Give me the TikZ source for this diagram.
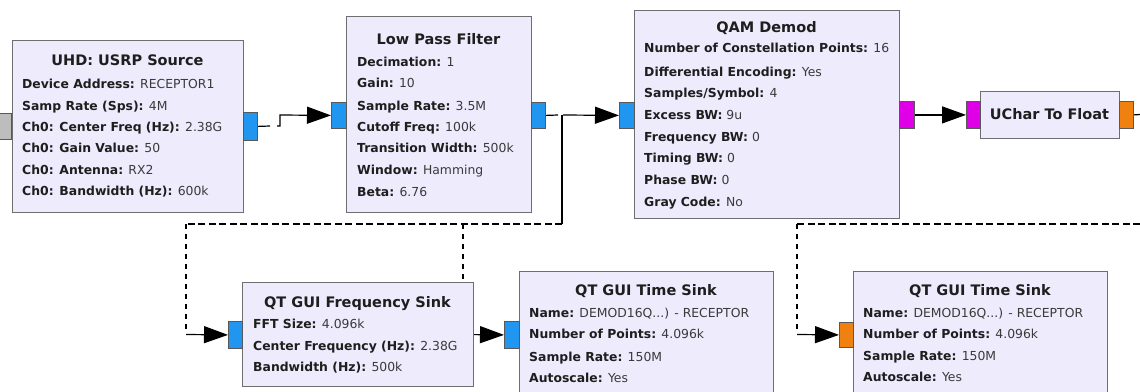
\documentclass[tikz,border=0pt]{standalone}
\usepackage{fontspec}
\setmainfont{DejaVu Sans}
\usetikzlibrary{arrows.meta}
\definecolor{blockfill}{HTML}{EEEBFD}
\definecolor{blockedge}{HTML}{6E6E6E}
\definecolor{portblue}{HTML}{2196F0}
\definecolor{portmag}{HTML}{E000E8}
\definecolor{portorange}{HTML}{F08010}
\definecolor{portgrey}{HTML}{BDBDBD}
\definecolor{keytext}{HTML}{1E1E1E}
\definecolor{valtext}{HTML}{3A3A3A}
\newcommand\kv[2]{{\bfseries\color{keytext}#1:} {\color{valtext}#2}}
\tikzset{
  block/.style={draw=blockedge, fill=blockfill, line width=1.2pt, inner sep=0pt, anchor=north west},
  port/.style={draw=blockedge!80!black, line width=0.8pt, inner sep=0pt, anchor=north west},
  title/.style={font=\fontsize{14.5}{16}\selectfont\bfseries, text=keytext, inner sep=0pt, anchor=base},
  prop/.style={font=\fontsize{12.4}{14}\selectfont, inner sep=0pt, anchor=base west},
  wire/.style={line width=1.2pt, black},
  flow/.style={wire, -{Triangle[length=24pt,width=17pt]}},
  hdash/.style={wire, dash pattern=on 7pt off 3.5pt},
  vdash/.style={wire, dash pattern=on 5pt off 5pt}
}
\begin{document}
\begin{tikzpicture}[x=1pt,y=-1pt]
\useasboundingbox (0,0) rectangle (1140,391);
\clip (0,0) rectangle (1140,391);

% ---------- connectors (drawn first so blocks sit on top) ----------
\coordinate (j1a) at (270,126);
\coordinate (j1b) at (277,126);
\coordinate (j2a) at (558,115);
\coordinate (j2b) at (563,115);
\coordinate (tap) at (562,115);
\coordinate (tapd) at (562,224);
\coordinate (fftd) at (186,224);
\coordinate (fftc) at (186,334.5);
\coordinate (tsd) at (463,224);
\coordinate (tsc) at (463,334.5);
\coordinate (rtop) at (1140,114.5);
\coordinate (rbot) at (1140,224);
\coordinate (ts2d) at (797,224);
\coordinate (ts2c) at (797,334.5);

% ---------- ports ----------
\node[port, fill=portgrey, minimum width=12pt, minimum height=26pt] (usrpin) at (-1,113) {};
\node[port, fill=portblue, minimum width=14pt, minimum height=28pt] (usrpout) at (243,112) {};
\node[port, fill=portblue, minimum width=15pt, minimum height=26pt] (lpfin) at (331,102) {};
\node[port, fill=portblue, minimum width=14pt, minimum height=26pt] (lpfout) at (531,102) {};
\node[port, fill=portblue, minimum width=15pt, minimum height=26pt] (qamin) at (619,102) {};
\node[port, fill=portmag, minimum width=15pt, minimum height=27pt] (qamout) at (899,101) {};
\node[port, fill=portmag, minimum width=14pt, minimum height=27pt] (ucin) at (966,101) {};
\node[port, fill=portorange, minimum width=14pt, minimum height=27pt] (ucout) at (1119,101) {};
\node[port, fill=portblue, minimum width=14pt, minimum height=27pt] (fftin) at (228,321) {};
\node[port, fill=portblue, minimum width=15pt, minimum height=27pt] (ts1in) at (504,321) {};
\node[port, fill=portorange, minimum width=14pt, minimum height=25pt] (ts2in) at (839,322) {};

% USRP -> low pass filter
\draw[wire] (usrpout.east) -- (j1a);
\draw[flow] (j1b) -- (280,126) -- (280,115) -- (lpfin.west);

% low pass filter -> QAM demod, frequency sink, time sink
\draw[wire] (lpfout.east) -- (j2a);
\draw[flow] (j2b) -- (qamin.west);
\draw[wire] (tap) -- (tapd);
\draw[hdash] (tapd) -- (fftd);
\draw[vdash] (fftd) -- (186,330);
\draw[flow] (fftc) -- (fftin.west);
\draw[vdash] (tsd) -- (tsc);
\draw[flow] (tsc) -- (ts1in.west);

% QAM demod -> UChar to float -> second time sink
\draw[flow] (qamout.east) -- (ucin.west);
\draw[wire] (ucout.east) -- (rtop);
\draw[hdash] (rbot) -- (ts2d);
\draw[vdash] (ts2d) -- (797,330);
\draw[flow] (ts2c) -- (ts2in.west);

% ---------- UHD: USRP Source ----------
\node[block, minimum width=231pt, minimum height=172pt] (usrp) at (12,40) {};
\node[title] (usrpt) at (127.5,65) {UHD: USRP Source};
\node[prop] (usrp1) at (22,88.5) {\kv{Device Address}{RECEPTOR1}};
\node[prop] (usrp2) at (22,110.5) {\kv{Samp Rate (Sps)}{4M}};
\node[prop] (usrp3) at (22,131.5) {\kv{Ch0: Center Freq (Hz)}{2.38G}};
\node[prop] (usrp4) at (22,152.5) {\kv{Ch0: Gain Value}{50}};
\node[prop] (usrp5) at (22,174.5) {\kv{Ch0: Antenna}{RX2}};
\node[prop] (usrp6) at (22,195.5) {\kv{Ch0: Bandwidth (Hz)}{600k}};

% ---------- Low Pass Filter ----------
\node[block, minimum width=185pt, minimum height=196pt] (lpf) at (346,16) {};
\node[title] (lpft) at (438.5,44) {Low Pass Filter};
\node[prop] (lpf1) at (357,66.5) {\kv{Decimation}{1}};
\node[prop] (lpf2) at (357,87.5) {\kv{Gain}{10}};
\node[prop] (lpf3) at (357,110.5) {\kv{Sample Rate}{3.5M}};
\node[prop] (lpf4) at (357,131.5) {\kv{Cutoff Freq}{100k}};
\node[prop] (lpf5) at (357,152.5) {\kv{Transition Width}{500k}};
\node[prop] (lpf6) at (357,174.5) {\kv{Window}{Hamming}};
\node[prop] (lpf7) at (357,196.5) {\kv{Beta}{6.76}};

% ---------- QAM Demod ----------
\node[block, minimum width=265pt, minimum height=208pt] (qam) at (634,10) {};
\node[title] (qamt) at (766.5,32) {QAM Demod};
\node[prop] (qam1) at (644,52.5) {\kv{Number of Constellation Points}{16}};
\node[prop] (qam2) at (644,76.5) {\kv{Differential Encoding}{Yes}};
\node[prop] (qam3) at (644,97.5) {\kv{Samples/Symbol}{4}};
\node[prop] (qam4) at (644,119.5) {\kv{Excess BW}{9u}};
\node[prop] (qam5) at (644,141.5) {\kv{Frequency BW}{0}};
\node[prop] (qam6) at (644,162.5) {\kv{Timing BW}{0}};
\node[prop] (qam7) at (644,184.5) {\kv{Phase BW}{0}};
\node[prop] (qam8) at (644,206.5) {\kv{Gray Code}{No}};

% ---------- UChar To Float ----------
\node[block, minimum width=139pt, minimum height=47pt] (uc) at (980,91) {};
\node[title] (uct) at (1049.5,119) {UChar To Float};

% ---------- QT GUI Frequency Sink ----------
\node[block, minimum width=231pt, minimum height=104pt] (fft) at (242,282) {};
\node[title] (fftt) at (357.5,307) {QT GUI Frequency Sink};
\node[prop] (fft1) at (253,328.5) {\kv{FFT Size}{4.096k}};
\node[prop] (fft2) at (253,350.5) {\kv{Center Frequency (Hz)}{2.38G}};
\node[prop] (fft3) at (253,371.5) {\kv{Bandwidth (Hz)}{500k}};

% ---------- QT GUI Time Sink (after the filter) ----------
\node[block, minimum width=254pt, minimum height=140pt] (ts1) at (519,271) {};
\node[title] (ts1t) at (646,295) {QT GUI Time Sink};
\node[prop] (ts11) at (529,317.5) {\kv{Name}{DEMOD16Q...) - RECEPTOR}};
\node[prop] (ts12) at (529,338.5) {\kv{Number of Points}{4.096k}};
\node[prop] (ts13) at (529,361.5) {\kv{Sample Rate}{150M}};
\node[prop] (ts14) at (529,382.5) {\kv{Autoscale}{Yes}};

% ---------- QT GUI Time Sink (after the demodulator) ----------
\node[block, minimum width=254pt, minimum height=140pt] (ts2) at (853,271) {};
\node[title] (ts2t) at (980,295) {QT GUI Time Sink};
\node[prop] (ts21) at (863,317.5) {\kv{Name}{DEMOD16Q...) - RECEPTOR}};
\node[prop] (ts22) at (863,338.5) {\kv{Number of Points}{4.096k}};
\node[prop] (ts23) at (863,360.5) {\kv{Sample Rate}{150M}};
\node[prop] (ts24) at (863,381.5) {\kv{Autoscale}{Yes}};

% ports over the block edges
\node[port, fill=portblue, minimum width=14pt, minimum height=28pt] at (243,112) {};
\node[port, fill=portblue, minimum width=15pt, minimum height=26pt] at (331,102) {};
\node[port, fill=portblue, minimum width=14pt, minimum height=26pt] at (531,102) {};
\node[port, fill=portblue, minimum width=15pt, minimum height=26pt] at (619,102) {};
\node[port, fill=portmag, minimum width=15pt, minimum height=27pt] at (899,101) {};
\node[port, fill=portmag, minimum width=14pt, minimum height=27pt] at (966,101) {};
\node[port, fill=portorange, minimum width=14pt, minimum height=27pt] at (1119,101) {};
\node[port, fill=portblue, minimum width=14pt, minimum height=27pt] at (228,321) {};
\node[port, fill=portblue, minimum width=15pt, minimum height=27pt] at (504,321) {};
\node[port, fill=portorange, minimum width=14pt, minimum height=25pt] at (839,322) {};
\node[port, fill=portgrey, minimum width=12pt, minimum height=26pt] at (-1,113) {};
\end{tikzpicture}
\end{document}
